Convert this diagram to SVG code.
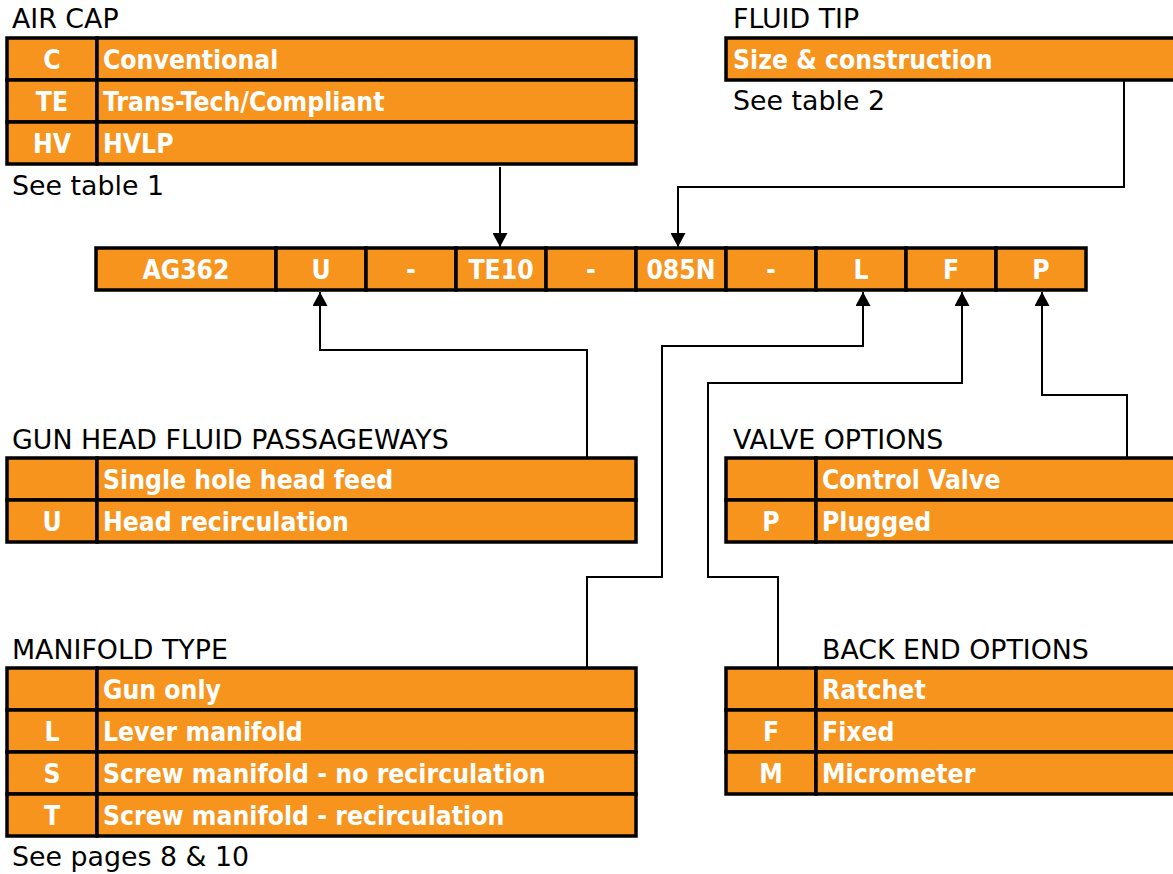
<svg xmlns="http://www.w3.org/2000/svg" width="1173" height="874" viewBox="0 0 1173 874">
<style>
.t{font-family:"DejaVu Sans","Liberation Sans",sans-serif;font-size:26.8px;fill:#000}
.b{font-family:"DejaVu Sans Condensed","DejaVu Sans","Liberation Sans",sans-serif;font-stretch:condensed;font-weight:bold;font-size:26.3px;fill:#fff}
.c{text-anchor:middle}
.cell{fill:#F7941E;stroke:#000;stroke-width:3.5}
.conn{fill:none;stroke:#000;stroke-width:2}
</style>
<defs>
<marker id="ah" viewBox="0 0 14 15" refX="14" refY="7.5" markerWidth="14" markerHeight="15" markerUnits="userSpaceOnUse" orient="auto">
<path d="M0,0 L14,7.5 L0,15 z" fill="#000"/>
</marker>
</defs>
<rect width="1173" height="874" fill="#fff"/>

<g id="connectors">
<path class="conn" d="M500,167 V247" marker-end="url(#ah)"/>
<path class="conn" d="M1124,80 V187 H678 V247" marker-end="url(#ah)"/>
<path class="conn" d="M587,458 V350 H320 V292" marker-end="url(#ah)"/>
<path class="conn" d="M587,668 V577 H662 V346 H863 V292" marker-end="url(#ah)"/>
<path class="conn" d="M778,668 V577 H708 V383 H962 V292" marker-end="url(#ah)"/>
<path class="conn" d="M1127,458 V395 H1042 V292" marker-end="url(#ah)"/>
</g>

<g id="air-cap">
<text class="t" x="12" y="28">AIR CAP</text>
<rect class="cell" x="7" y="38" width="90" height="42"/><rect class="cell" x="97" y="38" width="539" height="42"/>
<rect class="cell" x="7" y="80" width="90" height="42"/><rect class="cell" x="97" y="80" width="539" height="42"/>
<rect class="cell" x="7" y="122" width="90" height="42"/><rect class="cell" x="97" y="122" width="539" height="42"/>
<text class="b c" x="52" y="69">C</text><text class="b" x="103" y="69">Conventional</text>
<text class="b c" x="52" y="111">TE</text><text class="b" x="103" y="111">Trans-Tech/Compliant</text>
<text class="b c" x="52" y="153">HV</text><text class="b" x="103" y="153">HVLP</text>
<text class="t" x="12" y="195">See table 1</text>
</g>

<g id="fluid-tip">
<text class="t" x="733" y="28">FLUID TIP</text>
<rect class="cell" x="726" y="38" width="460" height="42"/>
<text class="b" x="733" y="69">Size &amp; construction</text>
<text class="t" x="733" y="110">See table 2</text>
</g>

<g id="part-number">
<rect class="cell" x="96" y="248" width="180" height="42"/>
<rect class="cell" x="276" y="248" width="90" height="42"/>
<rect class="cell" x="366" y="248" width="90" height="42"/>
<rect class="cell" x="456" y="248" width="90" height="42"/>
<rect class="cell" x="546" y="248" width="90" height="42"/>
<rect class="cell" x="636" y="248" width="90" height="42"/>
<rect class="cell" x="726" y="248" width="90" height="42"/>
<rect class="cell" x="816" y="248" width="90" height="42"/>
<rect class="cell" x="906" y="248" width="90" height="42"/>
<rect class="cell" x="996" y="248" width="90" height="42"/>
<text class="b c" x="186" y="279">AG362</text>
<text class="b c" x="321" y="279">U</text>
<text class="b c" x="411" y="279">-</text>
<text class="b c" x="501" y="279">TE10</text>
<text class="b c" x="591" y="279">-</text>
<text class="b c" x="681" y="279">085N</text>
<text class="b c" x="771" y="279">-</text>
<text class="b c" x="861" y="279">L</text>
<text class="b c" x="951" y="279">F</text>
<text class="b c" x="1041" y="279">P</text>
</g>

<g id="gun-head">
<text class="t" x="12" y="449">GUN HEAD FLUID PASSAGEWAYS</text>
<rect class="cell" x="7" y="458" width="90" height="42"/><rect class="cell" x="97" y="458" width="539" height="42"/>
<rect class="cell" x="7" y="500" width="90" height="42"/><rect class="cell" x="97" y="500" width="539" height="42"/>
<text class="b" x="103" y="489">Single hole head feed</text>
<text class="b c" x="52" y="531">U</text><text class="b" x="103" y="531">Head recirculation</text>
</g>

<g id="valve-options">
<text class="t" x="733" y="449">VALVE OPTIONS</text>
<rect class="cell" x="726" y="458" width="90" height="42"/><rect class="cell" x="816" y="458" width="370" height="42"/>
<rect class="cell" x="726" y="500" width="90" height="42"/><rect class="cell" x="816" y="500" width="370" height="42"/>
<text class="b" x="822" y="489">Control Valve</text>
<text class="b c" x="771" y="531">P</text><text class="b" x="822" y="531">Plugged</text>
</g>

<g id="manifold-type">
<text class="t" x="12" y="659">MANIFOLD TYPE</text>
<rect class="cell" x="7" y="668" width="90" height="42"/><rect class="cell" x="97" y="668" width="539" height="42"/>
<rect class="cell" x="7" y="710" width="90" height="42"/><rect class="cell" x="97" y="710" width="539" height="42"/>
<rect class="cell" x="7" y="752" width="90" height="42"/><rect class="cell" x="97" y="752" width="539" height="42"/>
<rect class="cell" x="7" y="794" width="90" height="42"/><rect class="cell" x="97" y="794" width="539" height="42"/>
<text class="b" x="103" y="699">Gun only</text>
<text class="b c" x="52" y="741">L</text><text class="b" x="103" y="741">Lever manifold</text>
<text class="b c" x="52" y="783">S</text><text class="b" x="103" y="783">Screw manifold - no recirculation</text>
<text class="b c" x="52" y="825">T</text><text class="b" x="103" y="825">Screw manifold - recirculation</text>
<text class="t" x="12" y="866">See pages 8 &amp; 10</text>
</g>

<g id="back-end-options">
<text class="t" x="822" y="659">BACK END OPTIONS</text>
<rect class="cell" x="726" y="668" width="90" height="42"/><rect class="cell" x="816" y="668" width="370" height="42"/>
<rect class="cell" x="726" y="710" width="90" height="42"/><rect class="cell" x="816" y="710" width="370" height="42"/>
<rect class="cell" x="726" y="752" width="90" height="42"/><rect class="cell" x="816" y="752" width="370" height="42"/>
<text class="b" x="822" y="699">Ratchet</text>
<text class="b c" x="771" y="741">F</text><text class="b" x="822" y="741">Fixed</text>
<text class="b c" x="771" y="783">M</text><text class="b" x="822" y="783">Micrometer</text>
</g>
</svg>
